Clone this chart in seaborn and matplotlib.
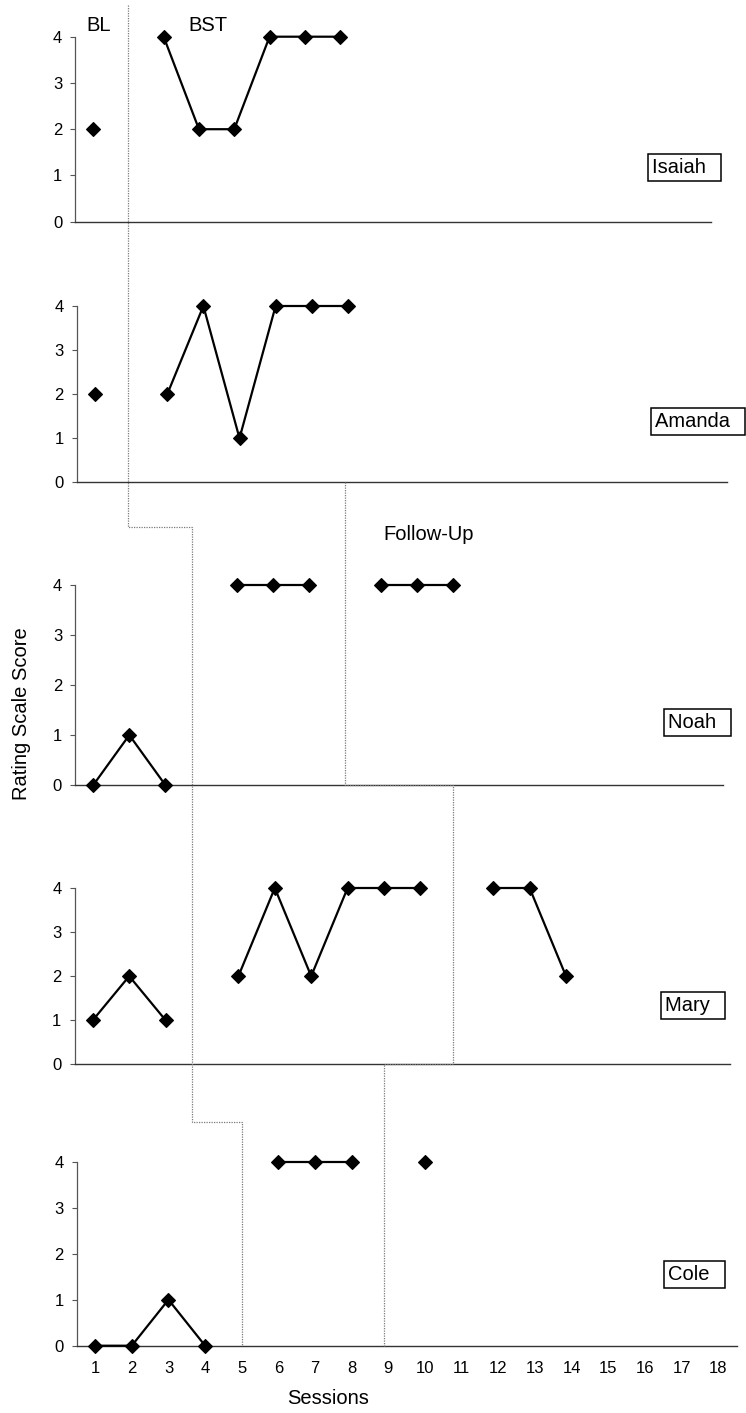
import matplotlib
matplotlib.use("Agg")
import matplotlib.pyplot as plt
import seaborn as sns
import pandas as pd
from matplotlib.lines import Line2D

# ---------------- data ----------------
participants = ["Isaiah", "Amanda", "Noah", "Mary", "Cole"]

bl_sessions = {"Isaiah": [1], "Amanda": [1], "Noah": [1, 2, 3], "Mary": [1, 2, 3], "Cole": [1, 2, 3, 4]}
bl_scores = {"Isaiah": [2], "Amanda": [2], "Noah": [0, 1, 0], "Mary": [1, 2, 1], "Cole": [0, 0, 1, 0]}

bst_sessions = {"Isaiah": [3, 4, 5, 6, 7, 8], "Amanda": [3, 4, 5, 6, 7, 8], "Noah": [5, 6, 7],
                "Mary": [5, 6, 7, 8, 9, 10], "Cole": [6, 7, 8]}
bst_scores = {"Isaiah": [4, 2, 2, 4, 4, 4], "Amanda": [2, 4, 1, 4, 4, 4], "Noah": [4, 4, 4],
              "Mary": [2, 4, 2, 4, 4, 4], "Cole": [4, 4, 4]}

fu_sessions = {"Noah": [9, 10, 11], "Mary": [12, 13, 14], "Cole": [10]}
fu_scores = {"Noah": [4, 4, 4], "Mary": [4, 4, 2], "Cole": [4]}

session_ticks = list(range(1, 19))
score_ticks = [0, 1, 2, 3, 4]

rows = []
for p in participants:
    for s, v in zip(bl_sessions.get(p, []), bl_scores.get(p, [])):
        rows.append((p, "BL", s, v))
    for s, v in zip(bst_sessions.get(p, []), bst_scores.get(p, [])):
        rows.append((p, "BST", s, v))
    for s, v in zip(fu_sessions.get(p, []), fu_scores.get(p, [])):
        rows.append((p, "Follow-Up", s, v))
df = pd.DataFrame(rows, columns=["Participant", "Phase", "Session", "Score"])

# ---------------- figure ----------------
sns.set_theme(style="white")
plt.rcParams["font.family"] = ["Liberation Sans", "DejaVu Sans"]
plt.rcParams["text.color"] = "black"
plt.rcParams["axes.labelcolor"] = "black"

W, H = 746, 1413
fig = plt.figure(figsize=(W / 100, H / 100), dpi=100)

# axes rectangles in pixels: (left, right, y of 0, y of 4)
rects_px = [
    (75.4, 710.8, 221.7, 36.7),
    (77.0, 727.0, 482.3, 306.0),
    (75.3, 723.3, 785.0, 585.3),
    (74.6, 729.8, 1064.3, 888.0),
    (76.8, 736.7, 1345.7, 1161.7),
]

spine_col = "#555555"
axes = []
for i, (p, (l, r, y0, y4)) in enumerate(zip(participants, rects_px)):
    ax = fig.add_axes([l / W, (H - y0) / H, (r - l) / W, (y0 - y4) / H])
    axes.append(ax)
    d = df[df["Participant"] == p]
    sns.lineplot(data=d, x="Session", y="Score", units="Phase", estimator=None,
                 color="black", marker="D", markersize=7, markeredgecolor="black",
                 markeredgewidth=0.8, linewidth=1.6, legend=False, ax=ax)
    for ln in ax.lines:
        ln.set_clip_on(False)
        ln.set_zorder(5)
    ax.set_xlim(0.5, 18.5)
    ax.set_ylim(0, 4)
    ax.set_xlabel("")
    ax.set_ylabel("")
    ax.set_yticks(score_ticks)
    ax.set_yticklabels([str(t) for t in score_ticks])
    ax.set_xticks(session_ticks)
    ax.patch.set_alpha(0)
    for side in ["top", "right"]:
        ax.spines[side].set_visible(False)
    ax.spines["left"].set_color(spine_col)
    ax.spines["left"].set_linewidth(0.9)
    ax.spines["bottom"].set_color("#333333")
    ax.spines["bottom"].set_linewidth(1.0)
    ax.tick_params(axis="y", left=True, length=3.5, width=0.8, color=spine_col,
                   pad=6, labelsize=12, labelcolor="black")
    if i < len(participants) - 1:
        ax.tick_params(axis="x", bottom=False, labelbottom=False)
    else:
        ax.set_xticklabels([str(t) for t in session_ticks])
        ax.tick_params(axis="x", bottom=True, length=0, pad=11, labelsize=12,
                       labelcolor="black")
    ax.grid(False)

# participant name boxes (session x, score y)
name_pos = [(16.83, 1.17), (16.5, 1.38), (16.96, 1.26), (16.72, 1.34), (16.63, 1.55)]
for ax, p, (nx, ny) in zip(axes, participants, name_pos):
    ax.text(nx, ny, p + "  ", ha="left", va="center", fontsize=14.5, color="black",
            zorder=6, clip_on=False,
            bbox=dict(boxstyle="square,pad=0.2", facecolor="white",
                      edgecolor="black", linewidth=1.1))

# phase labels
axes[0].text(1.15, 4.25, "BL", ha="center", va="center", fontsize=14.5, color="black", clip_on=False)
axes[0].text(4.26, 4.25, "BST", ha="center", va="center", fontsize=14.5, color="black", clip_on=False)
axes[2].text(10.31, 5.01, "Follow-Up", ha="center", va="center", fontsize=14.5, color="black",
             clip_on=False)

fig.text(22 / W, 1 - 714 / H, "Rating Scale Score", rotation=90, ha="center",
         va="center", fontsize=14.5, color="black")
fig.text(328 / W, 1 - 1399 / H, "Sessions", ha="center", va="center", fontsize=14.5,
         color="black")

# phase-change lines (staircase), vertices: (axis for x, session, axis for y, score)
phase_line_bl = [(0, 2, 0, 4.69), (0, 2, 2, 5.16), (2, 3.75, 2, 5.16),
                 (2, 3.75, 4, 4.87), (4, 5, 4, 4.87), (4, 5, 4, 0)]
phase_line_fu = [(2, 8, 1, 0), (2, 8, 2, 0), (2, 11, 2, 0), (2, 11, 3, 0),
                 (3, 9, 3, 0), (3, 9, 4, 0)]


def fig_point(ix, x, iy, y):
    px = axes[ix].transData.transform((x, 0))[0]
    py = axes[iy].transData.transform((0, y))[1]
    return fig.transFigure.inverted().transform((px, py))


for path in [phase_line_bl, phase_line_fu]:
    pts = [fig_point(*v) for v in path]
    xs = [q[0] for q in pts]
    ys = [q[1] for q in pts]
    fig.add_artist(Line2D(xs, ys, transform=fig.transFigure, color="#7a7a7a",
                          linewidth=0.9, dashes=(1, 1), zorder=1))

fig.savefig("out.png", dpi=100, facecolor="white")
